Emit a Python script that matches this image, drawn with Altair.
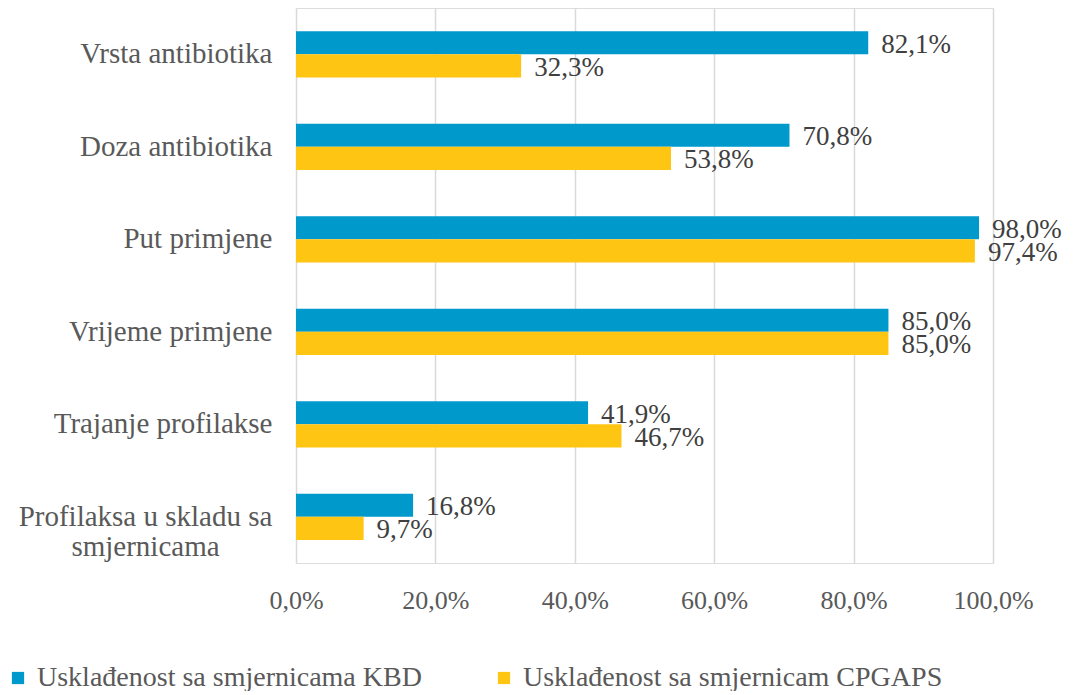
import altair as alt
import pandas as pd

categories = ["Vrsta antibiotika", "Doza antibiotika", "Put primjene",
              "Vrijeme primjene", "Trajanje profilakse",
              "Profilaksa u skladu sa|smjernicama"]
series = ["Usklađenost sa smjernicama KBD", "Usklađenost sa smjernicam CPGAPS"]
kbd = [82.1, 70.8, 98.0, 85.0, 41.9, 16.8]
cpgaps = [32.3, 53.8, 97.4, 85.0, 46.7, 9.7]
colors = ["#0099CC", "#FFC513"]
x_ticks = [0, 20, 40, 60, 80, 100]

rows = []
for c, a, b in zip(categories, kbd, cpgaps):
    rows.append({"cat": c, "series": series[0], "value": a})
    rows.append({"cat": c, "series": series[1], "value": b})
df = pd.DataFrame(rows)

FONT = "Liberation Serif"
multi = "indexof(datum.value, '|') >= 0"

y_enc = alt.Y("cat:N", sort=categories,
              scale=alt.Scale(paddingInner=0.5, paddingOuter=0.25),
              axis=alt.Axis(title=None, domain=False, ticks=False, grid=False,
                            labelFont=FONT, labelFontSize=29, labelColor="#595959",
                            labelAlign={"condition": {"test": multi, "value": "center"},
                                        "value": "right"},
                            labelPadding={"condition": {"test": multi, "value": 151},
                                          "value": 24},
                            labelLineHeight=30, labelLimit=400,
                            labelExpr="split(datum.label, '|')"))
x_enc = alt.X("value:Q", scale=alt.Scale(domain=[0, 100], nice=False),
              axis=alt.Axis(title=None, values=x_ticks, domain=False, ticks=False,
                            grid=True, gridColor="#D9D9D9", gridWidth=1.5,
                            labelFlush=False, labelOverlap=False,
                            labelFont=FONT, labelFontSize=26, labelColor="#595959",
                            labelPadding=24,
                            labelExpr="replace(format(datum.value, '.1f'), '.', ',') + '%'"))
yoff = alt.YOffset("series:N", sort=series)
color = alt.Color("series:N", sort=series,
                  scale=alt.Scale(domain=series, range=colors),
                  legend=alt.Legend(title=None, orient="none", legendX=-292, legendY=656,
                                    direction="horizontal", columns=2, columnPadding=68,
                                    symbolType="square", symbolSize=150, symbolStrokeWidth=0,
                                    symbolOffset=0, labelOffset=5,
                                    labelFont=FONT, labelFontSize=28, labelColor="#595959",
                                    labelLimit=600))

bars = alt.Chart(df).mark_bar(height={"band": 1}).encode(
    y=y_enc, x=x_enc, yOffset=yoff, color=color)

labels = alt.Chart(df).transform_calculate(
    lbl="replace(format(datum.value, '.1f'), '.', ',') + '%'"
).mark_text(align="left", baseline="middle", dx=13, dy=2, font=FONT, fontSize=27,
            color="#404040").encode(
    y=alt.Y("cat:N", sort=categories), x="value:Q", yOffset=yoff, text="lbl:N")

chart = alt.layer(bars, labels).properties(
    width=697, height=555,
    autosize=alt.AutoSizeParams(type="none"),
    padding={"left": 288, "top": 0, "right": 78, "bottom": 128}
).configure_view(stroke=None).configure(background="white")

chart.save("out.html", embed_options={"renderer": "svg", "actions": False})
